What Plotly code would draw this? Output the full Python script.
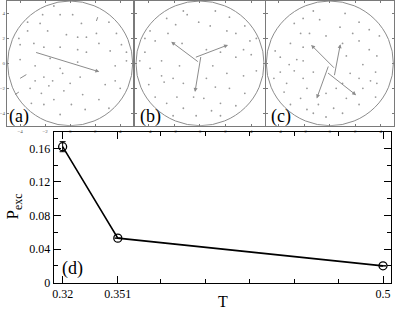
import plotly.graph_objects as go

W, H = 395, 313

# ---- panel (d): excitation probability vs temperature
T = [0.32, 0.351, 0.5]
P_exc = [0.162, 0.053, 0.020]
P_err = [0.006, 0.0, 0.0]

# ---- panel (a): displacement field
dots_a_x = [-1.3, -2.2, -0.8, 0.2, -3.4, 0.9, 3.1, -2.4, 2.1, 3.7, -3.4, -1.8, -0.3, -4.1, 0.6, 1.3,
            2.3, -2.9, -4.0, 4.1, -2.1, -0.8, 0.6, 3.2, 1.3, 4.5, -4.0, 4.5, -1.6, -2.8, 0.6, 3.6,
            -0.8, -2.1, -2.8, -1.4, -0.6, 0.8, 0.0, -3.2, -1.7, 2.8, 3.6, 4.0, -2.3, -0.5, 1.0, 2.3,
            -1.3, -3.1, 0.1, -2.1, 1.2, 3.1, -0.8]
dots_a_y = [4.6, 3.9, 3.9, 3.9, 3.3, 3.2, 3.3, 3.2, 2.4, 2.4, 2.6, 2.6, 2.3, 2.0, 2.1, 2.1,
            1.6, 1.6, 1.5, 1.5, 1.3, 1.3, 1.1, 1.0, 0.9, 0.9, 0.3, 0.2, 0.4, -0.2, 0.1, -0.2,
            -0.4, -1.1, -1.4, -1.4, -0.8, -1.1, -1.6, -2.0, -1.8, -1.7, -1.4, -2.0, -2.4, -2.2, -2.5, -2.9,
            -2.9, -3.2, -3.3, -3.3, -3.7, -3.6, -4.1]
dash_a_x = [2.1, -4.0, -4.4]
dash_a_y = [3.4, -1.2, -2.5]
dash_a_u = [0.1, 0.5, 0.3]
dash_a_v = [0.3, 0.3, 0.2]
arr_a_x = [-2.84]
arr_a_y = [0.91]
arr_a_u = [5.17]
arr_a_v = [-1.59]

# ---- panel (b)
dots_b_x = [-1.3, 1.2, -2.6, -1.0, 2.3, 0.8, -0.1, -1.9, 3.5, -3.9, 2.1, 2.8, -2.5, -4.3, -3.5, -1.4,
            3.9, 4.4, 0.5, 3.4, -4.3, 1.6, 4.0, -4.7, -3.0, 2.8, -3.9, -1.6, 1.0, 4.4, -3.0, -2.1,
            2.1, 0.5, 3.4, -4.0, -2.8, -1.3, 1.2, 2.3, -3.5, -1.8, -0.5, 3.5, 0.3, -2.6, 1.6, -1.3,
            0.9, 2.8, -0.3, -2.1, 1.6]
dots_b_y = [4.2, 4.2, 3.6, 3.9, 3.7, 3.0, 3.3, 3.1, 3.0, 2.6, 2.6, 2.4, 2.4, 2.0, 1.8, 1.6,
            1.8, 2.0, 1.1, 1.1, 0.9, 0.9, 0.7, 0.2, 0.2, 0.5, -0.4, -0.2, -0.2, -0.6, -1.0, -1.2,
            -0.8, -1.2, -1.0, -1.7, -1.5, -1.6, -1.9, -2.0, -2.7, -2.7, -2.7, -2.4, -2.8, -3.2, -3.2, -3.6,
            -3.8, -3.4, -4.2, -4.2, -4.2]
arr_b_x = [-0.05, -0.44, 0.08]
arr_b_y = [0.05, 0.45, 0.63]
arr_b_u = [-2.20, 2.63, -0.47]
arr_b_v = [1.69, 1.03, -2.92]

# ---- panel (c)
dots_c_x = [-1.3, 1.2, -2.1, -0.8, 2.3, -2.8, 0.8, 3.1, -2.3, -1.6, 1.8, -0.3, 3.9, -3.1, 1.0, 2.3,
            -4.3, -2.1, 3.1, -2.6, -3.9, 1.3, 3.7, -3.2, -2.1, 2.6, 3.6, -3.9, -2.8, -1.3, 1.6, -4.4,
            -2.1, 2.3, -3.4, 3.2, 1.0, 3.7, -1.8, 0.5, 2.6, -3.6, -0.3, -2.3, 3.6, 1.3, -3.1, -0.9,
            2.3, -1.8, 0.3, 1.0, -1.3, -0.3]
dots_c_y = [4.2, 4.0, 3.6, 3.5, 3.3, 3.2, 2.9, 2.7, 2.4, 2.4, 2.4, 2.2, 2.2, 1.6, 1.6, 1.8,
            1.0, 1.3, 1.1, 0.3, 0.5, 0.6, 0.6, -0.1, 0.2, -0.1, -0.7, -0.7, -0.6, -0.7, -0.8, -1.2,
            -1.2, -1.2, -1.6, -1.4, -1.6, -1.6, -2.0, -2.0, -2.0, -2.3, -2.4, -2.8, -2.7, -2.8, -3.3, -3.3,
            -3.3, -3.7, -3.6, -4.0, -4.0, -4.3]
arr_c_x = [0.44, -0.26, 0.34, -0.08]
arr_c_y = [-0.47, -0.68, -1.07, -0.13]
arr_c_u = [-1.91, 2.33, 0.49, -0.95]
arr_c_v = [1.95, -1.87, 2.61, -2.68]

GREY = "#8c8c8c"
FRAME = "#7a7a7a"
SERIF = "Liberation Serif, Times New Roman, serif"


def px(x):
    return x / W


def py(y):
    return 1 - y / H


fig = go.Figure()
annotations = []
shapes = []

panels = [
    ("x", "y", dots_a_x, dots_a_y, arr_a_x, arr_a_y, arr_a_u, arr_a_v),
    ("x2", "y2", dots_b_x, dots_b_y, arr_b_x, arr_b_y, arr_b_u, arr_b_v),
    ("x3", "y3", dots_c_x, dots_c_y, arr_c_x, arr_c_y, arr_c_u, arr_c_v),
]

for xr, yr, dx, dy, ax, ay, au, av in panels:
    fig.add_trace(go.Scatter(x=dx, y=dy, xaxis=xr, yaxis=yr, mode="markers",
                             marker=dict(size=1.8, color="#9a9a9a"), showlegend=False,
                             hoverinfo="skip"))
    for x0, y0, u, v in zip(ax, ay, au, av):
        annotations.append(dict(x=x0 + u, y=y0 + v, ax=x0, ay=y0, xref=xr, yref=yr,
                                axref=xr, ayref=yr, text="", showarrow=True,
                                arrowhead=2, arrowsize=0.8, arrowwidth=1,
                                arrowcolor=GREY))
    shapes.append(dict(type="circle", xref=xr, yref=yr, x0=-5, x1=5, y0=-5, y1=5,
                       line=dict(color=GREY, width=1)))

# short visible dashes in (a)
sx, sy = [], []
for x0, y0, u, v in zip(dash_a_x, dash_a_y, dash_a_u, dash_a_v):
    sx += [x0, x0 + u, None]
    sy += [y0, y0 + v, None]
fig.add_trace(go.Scatter(x=sx, y=sy, xaxis="x", yaxis="y", mode="lines",
                         line=dict(color=GREY, width=1), showlegend=False, hoverinfo="skip"))

# panel (d)
fig.add_trace(go.Scatter(
    x=T, y=P_exc, xaxis="x4", yaxis="y4", mode="lines+markers",
    line=dict(color="black", width=1.6),
    marker=dict(symbol="circle-open", size=8, color="black", line=dict(width=1.3)),
    error_y=dict(type="data", array=P_err, color="black", thickness=1, width=3),
    showlegend=False,
))

top_axis = dict(showline=True, linecolor=FRAME, linewidth=1, mirror="ticks",
                ticks="inside", ticklen=2, tickcolor=FRAME, tickvals=[-4, -2, 0, 2, 4],
                tickfont=dict(size=5, family=SERIF, color="#555"),
                showgrid=False, zeroline=False)

doms = [(5, 132), (134, 264), (265, 394)]
for i, (l, r) in enumerate(doms):
    k = "" if i == 0 else str(i + 1)
    fig.layout["xaxis" + k] = dict(top_axis, domain=[px(l), px(r)], range=[-5.05, 5.05],
                                   anchor="y" + k)
    fig.layout["yaxis" + k] = dict(top_axis, domain=[py(128), 1], range=[-5.0, 5.0],
                                   anchor="x" + k, showticklabels=(i == 0))

fig.update_layout(
    xaxis4=dict(domain=[px(52), px(391)], range=[0.315, 0.5045], anchor="y4",
                tickvals=T, ticktext=["0.32", "0.351", "0.5"], ticks="inside", ticklen=7,
                showline=True, linecolor="black", linewidth=1, mirror="ticks",
                tickcolor="black", showgrid=False, zeroline=False,
                tickfont=dict(size=12, family=SERIF, color="black"),
                minor=dict(tickmode="array", tickvals=[0.375, 0.4, 0.425, 0.45, 0.475],
                           ticks="inside", ticklen=4, tickcolor="black")),
    yaxis4=dict(domain=[py(289), py(134)], range=[0, 0.18], anchor="x4",
                tickvals=[0, 0.04, 0.08, 0.12, 0.16],
                ticktext=["0", "0.04", "0.08", "0.12", "0.16"], ticks="inside", ticklen=7,
                showline=True, linecolor="black", linewidth=1, mirror="ticks",
                tickcolor="black", showgrid=False, zeroline=False,
                tickfont=dict(size=12, family=SERIF, color="black"),
                minor=dict(tickmode="array", tickvals=[0.02, 0.06, 0.10, 0.14, 0.18],
                           ticks="inside", ticklen=4, tickcolor="black")),
)

labels = [("(a)", 5, 119), ("(b)", 137, 119), ("(c)", 268, 119), ("(d)", 58, 275)]
for txt, x0, y0 in labels:
    annotations.append(dict(text=txt, x=px(x0), y=py(y0), xref="paper", yref="paper",
                            xanchor="left", yanchor="middle", showarrow=False,
                            font=dict(size=18, family=SERIF, color="black")))
annotations.append(dict(text="T", x=px(222), y=py(308), xref="paper", yref="paper",
                        xanchor="center", yanchor="middle", showarrow=False,
                        font=dict(size=16, family=SERIF, color="black")))
annotations.append(dict(text="P<sub>exc</sub>", x=px(12), y=py(211), xref="paper",
                        yref="paper", xanchor="center", yanchor="middle", showarrow=False,
                        textangle=-90, font=dict(size=17, family=SERIF, color="black")))

fig.update_layout(width=W, height=H, margin=dict(l=0, r=0, t=0, b=0),
                  paper_bgcolor="white", plot_bgcolor="white",
                  annotations=annotations, shapes=shapes)

fig.write_html("out.html", config={"displayModeBar": False},
               post_script="document.body.style.margin='0px';")
